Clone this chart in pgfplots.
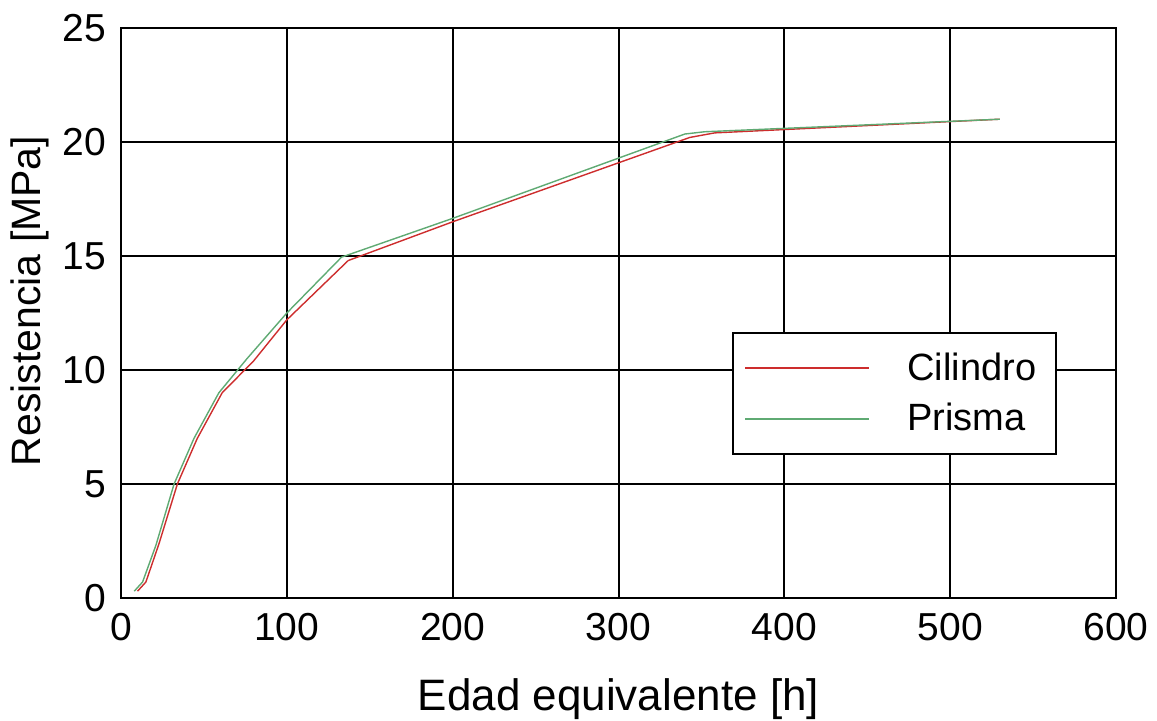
\documentclass[border=0pt]{standalone}
\usepackage{pgfplots}
\pgfplotsset{compat=1.18}
\usepackage{fontspec}
\setmainfont{Liberation Sans}
\definecolor{cred}{RGB}{205,45,45}
\definecolor{cgreen}{RGB}{95,170,115}
\begin{document}
\begin{tikzpicture}
\begin{axis}[
  scale only axis,
  width=497.5pt, height=285pt,
  xmin=0, xmax=600, ymin=0, ymax=25,
  xtick={0,100,...,600}, ytick={0,5,...,25},
  grid=major,
  major grid style={black, line width=1pt},
  axis line style={black, line width=1pt},
  major tick length=0pt,
  /pgf/number format/assume math mode=true,
  tick label style={font=\fontsize{19.5}{22}\selectfont},
  xticklabel style={yshift=-4pt},
  yticklabel style={xshift=-4pt},
  xlabel style={font=\fontsize{22}{24}\selectfont, yshift=-12pt},
  ylabel style={font=\fontsize{20.5}{23}\selectfont, xshift=6pt},
  xlabel={Edad equivalente [h]},
  ylabel={Resistencia [MPa]},
  legend style={at={(0.941,0.467)}, anchor=north east, draw=black, line width=1pt,
    font=\fontsize{19}{22}\selectfont, inner xsep=5.5pt, inner ysep=8pt,
    row sep=6pt, column sep=14pt},
  legend cell align=left,
  legend image code/.code={\draw[#1, line width=1pt] (0pt,0pt) -- (62pt,0pt);},
  legend style={nodes={inner xsep=4.5pt}},
]
\addplot[cred, line width=0.7pt] coordinates {
(10,0.3) (15,0.7) (23,2.4) (34,5) (46,7) (61,9) (80,10.4) (100,12.2) (137,14.8) (200,16.5) (343,20.2) (358,20.4) (530,21)
};
\addlegendentry{Cilindro}
\addplot[cgreen, line width=0.7pt] coordinates {
(8,0.3) (13,0.7) (21,2.3) (32,5) (44,7) (59,9) (76,10.5) (100,12.5) (133,14.95) (200,16.65) (340,20.35) (352,20.45) (530,21)
};
\addlegendentry{Prisma}
\end{axis}
\pgfresetboundingbox
\path (-60.5pt,-61pt) rectangle (518pt,299pt);
\end{tikzpicture}
\end{document}
